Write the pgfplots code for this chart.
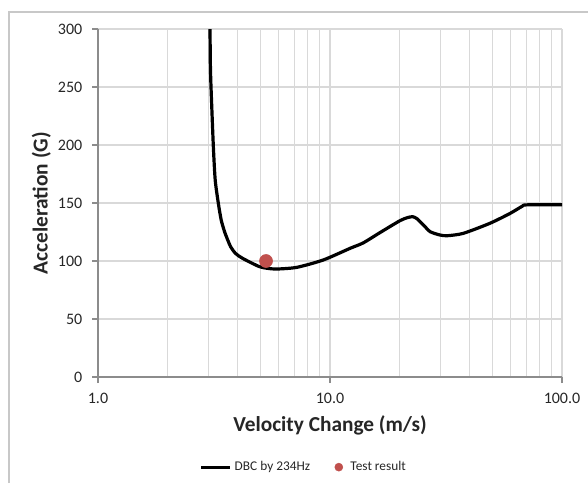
\documentclass[border=0pt]{standalone}
\usepackage{pgfplots}
\pgfplotsset{compat=1.18}
\usepackage{fontspec}
\setmainfont{Carlito}

\definecolor{gridgray}{HTML}{D9D9D9}
\definecolor{axisgray}{HTML}{8C8C8C}
\definecolor{framegray}{HTML}{C8C8C8}
\definecolor{dotred}{HTML}{C0504D}

\begin{document}
\begin{tikzpicture}
    \useasboundingbox (0,0) rectangle (441pt,362.25pt);
    % chart area frame (cut off on the right and bottom)
    \draw[framegray, line width=0.8pt] (6.75pt,0) -- (6.75pt,353.25pt) -- (441pt,353.25pt);

    \begin{axis}[
        at={(73.5pt,79.5pt)}, anchor=south west,
        scale only axis,
        width=348pt, height=261pt,
        xmode=log, log basis x=10,
        xmin=1, xmax=100,
        ymin=0, ymax=300,
        xtick={1,10,100},
        xticklabels={1.0,10.0,100.0},
        minor xtick={2,3,4,5,6,7,8,9,20,30,40,50,60,70,80,90},
        ytick={0,50,...,300},
        axis lines=left,
        axis line style={axisgray, line width=0.8pt, -},
        grid=both,
        major grid style={gridgray, line width=0.8pt},
        minor grid style={gridgray, line width=0.8pt},
        tick style={axisgray, line width=0.8pt},
        major tick length=4.5pt,
        minor tick length=0pt,
        tick align=outside,
        tick label style={font=\fontsize{12}{14}\selectfont, text=black!85},
        xticklabel style={yshift=-3.75pt},
        yticklabel style={xshift=-3.75pt},
        /pgf/number format/assume math mode=true,
        xlabel={Velocity Change (m/s)},
        ylabel={Acceleration (G)},
        label style={font=\fontsize{16}{19}\selectfont\bfseries, text=black!85},
        xlabel style={at={(axis description cs:0.5,-0.138)}, anchor=center},
        ylabel style={at={(axis description cs:-0.122,0.5)}, anchor=center},
        legend columns=2,
        legend style={at={(0.444,-0.259)}, anchor=center, draw=none, fill=none,
            font=\fontsize{10}{12}\selectfont, text=black!85},
        legend cell align=left,
        clip=true,
    ]

    \addplot[black, line width=2.4pt, smooth, tension=0.4,
        legend image code/.code={\draw[black, line width=2.4pt] (0pt,0) -- (22pt,0);}]
        coordinates {
        (3.04,300) (3.05,270) (3.07,250) (3.14,200) (3.20,170) (3.30,150)
        (3.40,135) (3.53,124) (3.73,112.3) (3.92,106.5) (4.2,102.3) (4.99,95)
        (5.79,93.1) (7.18,94.5) (9.36,100.9) (12.2,110.9) (13.9,115.6)
        (16.4,124.4) (20.0,134.7) (21.5,137.3) (22.7,138.2) (23.7,136.5)
        (25.3,131) (27.0,125.3) (29.8,122.4) (32,121.8) (37.5,123.8)
        (48.9,132.5) (59.7,141) (67.5,147.3) (70.5,148.4) (100,148.5)
    };
    \addlegendentry{DBC by 234Hz}

    \addplot[only marks, mark=*, mark size=4.9pt, color=dotred,
        legend image code/.code={\path[draw=none, fill=none] (-19.5pt,0) -- (6.75pt,0);
            \fill[dotred] (0pt,0) circle (3pt);}]
        coordinates {(5.3,100)};
    \addlegendentry{Test result}

    \end{axis}
\end{tikzpicture}
\end{document}
